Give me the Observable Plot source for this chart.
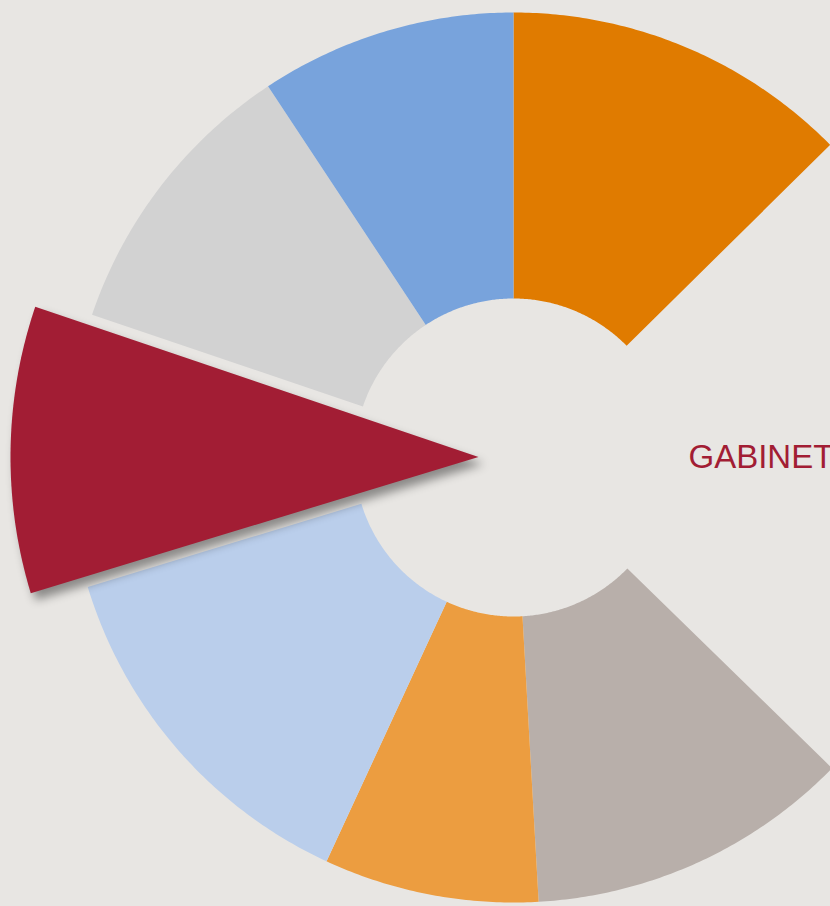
<!DOCTYPE html>
<html>
<head>
<meta charset="utf-8">
<script src="https://cdn.jsdelivr.net/npm/d3@7"></script>
<script src="https://cdn.jsdelivr.net/npm/@observablehq/plot@0.6"></script>
<style>
  html, body { margin: 0; padding: 0; background: #E8E6E3; overflow: hidden; }
  #chart svg { display: block; overflow: hidden; }
</style>
</head>
<body>
<div id="chart"></div>
<script>
// ---- data (clockwise from 12 o'clock) ----
const sectors = ["A", "GABINETE", "B", "C", "D", "E", "F", "G"];
const shares  = [12.6, 24.7, 11.8, 7.8, 13.4, 9.9, 10.5, 9.3];
const colors  = ["#E07B00", "none", "#B8AFAA", "#EC9D40", "#BACEEB", "#A21D34", "#D2D2D2", "#78A3DC"];
const explodedSector = "E";
const labelledSector = "GABINETE";

// ---- geometry settings ----
const W = 830, H = 906;
const CX = 513, CY = 457;          // pixel centre of the ring
const R_OUT = 445, R_IN = 159;
const R_EXPLODED = 468, EXPLODE = 35;

const pie = d3.pie().sort(null).value(d => d.share).startAngle(0).endAngle(2 * Math.PI);
const rows = sectors.map((s, i) => ({sector: s, share: shares[i], color: colors[i]}));
const arcs = pie(rows);

const toXY = (r, a, off = [0, 0]) => ({x: off[0] + r * Math.sin(a), y: off[1] + r * Math.cos(a)});

function slicePoints(arc) {
  const s = arc.data.sector;
  const pts = [];
  const steps = Math.max(8, Math.ceil((arc.endAngle - arc.startAngle) / (Math.PI / 360)));
  if (s === explodedSector) {
    const mid = (arc.startAngle + arc.endAngle) / 2;
    const off = [EXPLODE * Math.sin(mid), EXPLODE * Math.cos(mid)];
    pts.push({...toXY(0, 0, off), sector: s});
    for (let k = 0; k <= steps; k++) {
      const a = arc.startAngle + (arc.endAngle - arc.startAngle) * k / steps;
      pts.push({...toXY(R_EXPLODED, a, off), sector: s});
    }
  } else {
    for (let k = 0; k <= steps; k++) {
      const a = arc.startAngle + (arc.endAngle - arc.startAngle) * k / steps;
      pts.push({...toXY(R_OUT, a), sector: s});
    }
    for (let k = steps; k >= 0; k--) {
      const a = arc.startAngle + (arc.endAngle - arc.startAngle) * k / steps;
      pts.push({...toXY(R_IN, a), sector: s});
    }
  }
  return pts;
}

const visible = arcs.filter(a => a.data.color !== "none")
  .sort((a, b) => (a.data.sector === explodedSector) - (b.data.sector === explodedSector));
const sliceMarks = visible.map(a => Plot.line(slicePoints(a), {
  x: "x", y: "y",
  curve: "linear-closed",
  fill: a.data.color,
  stroke: "none"
}));

const labelArc = arcs.find(a => a.data.sector === labelledSector);
const labelMid = (labelArc.startAngle + labelArc.endAngle) / 2;
const labels = [{text: labelledSector, ...toXY(175, labelMid)}];

const chart = Plot.plot({
  width: W, height: H,
  margin: 0,
  x: {domain: [-CX, W - CX], axis: null},
  y: {domain: [-(H - CY), CY], axis: null},
  style: {background: "#E8E6E3", overflow: "hidden"},
  marks: [
    ...sliceMarks,
    Plot.text(labels, {
      x: "x", y: "y", text: "text",
      textAnchor: "start",
      fill: "#A21D34",
      fontSize: 33,
      fontFamily: "Liberation Sans, Arial, sans-serif"
    })
  ]
});

// drop shadow under the exploded slice
const explodedColor = colors[sectors.indexOf(explodedSector)];
chart.querySelectorAll("path").forEach(p => {
  const g = p.parentNode;
  if ((g.getAttribute("fill") || "").toLowerCase() === explodedColor.toLowerCase()) {
    g.style.filter = "drop-shadow(5px 7px 5px rgba(0,0,0,0.4))";
  }
});

document.getElementById("chart").appendChild(chart);
</script>
</body>
</html>
